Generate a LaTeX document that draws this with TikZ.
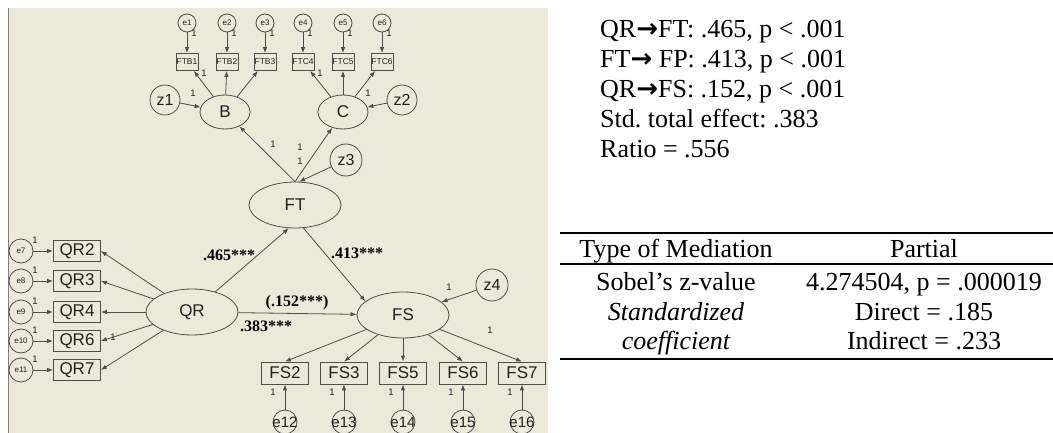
\documentclass[tikz,border=0pt]{standalone}
\usepackage{fontspec}
\setmainfont{Liberation Serif}
\newfontfamily\amosfont{Liberation Sans}
\newfontfamily\arrowfont{DejaVu Sans}
\usepackage{tikz}
\usetikzlibrary{shapes.geometric,arrows.meta}
\definecolor{amosbg}{HTML}{ECE9D8}
\definecolor{amosline}{HTML}{4D4D4D}
\definecolor{amostext}{HTML}{222222}
\newcommand{\resultArrow}[0]{{\arrowfont\bfseries →}}
\newcommand{\wideLabel}[1]{\makebox[0pt]{#1}}

\begin{document}
\frenchspacing
\begin{tikzpicture}[x=1pt,y=-1pt]
  \tikzset{
    latent/.style={ellipse,draw=amosline,line width=0.8pt,inner sep=0pt,minimum width=92pt,minimum height=46pt,text=amostext,font=\amosfont\fontsize{17}{17}\selectfont},
    smalllatent/.style={latent,minimum width=50pt,minimum height=34pt},
    observed/.style={rectangle,draw=amosline,line width=0.8pt,inner sep=0pt,minimum width=47pt,minimum height=21pt,text=amostext,font=\amosfont\fontsize{17}{17}\selectfont},
    smallobserved/.style={observed,minimum width=22pt,minimum height=17pt,font=\amosfont\fontsize{8.5}{8.5}\selectfont},
    resid/.style={circle,draw=amosline,line width=0.8pt,inner sep=0pt,minimum size=24pt,text=amostext,font=\amosfont\fontsize{8}{8}\selectfont},
    smallresid/.style={resid,minimum size=18pt},
    disturb/.style={resid,minimum size=32pt,font=\amosfont\fontsize{16}{16}\selectfont},
    regression/.style={draw=amosline,line width=0.8pt,-{Latex[length=6pt,width=4.5pt]}},
    fixone/.style={inner sep=0pt,text=amostext,font=\amosfont\fontsize{9.5}{9.5}\selectfont},
    estimate/.style={inner sep=0pt,font=\fontsize{16}{16}\selectfont\bfseries},
    result/.style={anchor=base west,inner sep=0pt,font=\fontsize{26}{26}\selectfont},
    cell/.style={anchor=base,inner sep=0pt,font=\fontsize{26}{26}\selectfont},
    tablerule/.style={line width=1.3pt}
  }
  \useasboundingbox (0,0) rectangle (1053,433);
  \fill[amosbg] (8,8) rectangle (548,433);
  \draw[gray,line width=1pt] (8,8) -- (8,433);

  % FT measurement part
  \node[smallresid] (e1) at (187,23) {e1};
  \node[smallresid] (e2) at (227,23) {e2};
  \node[smallresid] (e3) at (265,23) {e3};
  \node[smallresid] (e4) at (303,23) {e4};
  \node[smallresid] (e5) at (343,23) {e5};
  \node[smallresid] (e6) at (382,23) {e6};
  \node[smallobserved] (FTB1) at (187,62) {FTB1};
  \node[smallobserved] (FTB2) at (227,62) {FTB2};
  \node[smallobserved] (FTB3) at (265,62) {FTB3};
  \node[smallobserved] (FTC4) at (303,62) {FTC4};
  \node[smallobserved] (FTC5) at (343,62) {FTC5};
  \node[smallobserved] (FTC6) at (382,62) {FTC6};
  \node[smalllatent] (B) at (225,112) {B};
  \node[smalllatent] (C) at (343,112) {C};
  \node[disturb,minimum size=30pt] (z1) at (165,100) {z1};
  \node[disturb,minimum size=30pt] (z2) at (402,100) {z2};
  \node[latent] (FT) at (295,205) {FT};
  \node[disturb] (z3) at (346,160) {z3};

  % QR part
  \node[latent] (QR) at (192,312) {QR};
  \node[observed] (QR2) at (77,251) {QR2};
  \node[observed] (QR3) at (77,281) {QR3};
  \node[observed] (QR4) at (77,312) {QR4};
  \node[observed] (QR6) at (77,341) {QR6};
  \node[observed] (QR7) at (77,370) {QR7};
  \node[resid] (e7) at (21,251) {e7};
  \node[resid] (e8) at (21,281) {e8};
  \node[resid] (e9) at (21,312) {e9};
  \node[resid] (e10) at (21,341) {e10};
  \node[resid] (e11) at (21,370) {e11};

  % FS part
  \node[latent] (FS) at (403,315) {FS};
  \node[disturb] (z4) at (492,285) {z4};
  \node[observed,minimum height=22pt] (FS2) at (285,373) {FS2};
  \node[observed,minimum height=22pt] (FS3) at (344,373) {FS3};
  \node[observed,minimum height=22pt] (FS5) at (403,373) {FS5};
  \node[observed,minimum height=22pt] (FS6) at (463,373) {FS6};
  \node[observed,minimum height=22pt] (FS7) at (522,373) {FS7};
  \node[resid,font=\amosfont\fontsize{15}{15}\selectfont] (e12) at (285,422) {\wideLabel{e12}};
  \node[resid,font=\amosfont\fontsize{15}{15}\selectfont] (e13) at (344,422) {\wideLabel{e13}};
  \node[resid,font=\amosfont\fontsize{15}{15}\selectfont] (e14) at (403,422) {\wideLabel{e14}};
  \node[resid,font=\amosfont\fontsize{15}{15}\selectfont] (e15) at (463,422) {\wideLabel{e15}};
  \node[resid,font=\amosfont\fontsize{15}{15}\selectfont] (e16) at (522,422) {\wideLabel{e16}};

  % paths
  \draw[regression] (e1) -- (FTB1);
  \draw[regression] (e2) -- (FTB2);
  \draw[regression] (e3) -- (FTB3);
  \draw[regression] (e4) -- (FTC4);
  \draw[regression] (e5) -- (FTC5);
  \draw[regression] (e6) -- (FTC6);
  \draw[regression] (B) -- (FTB1);
  \draw[regression] (B) -- (FTB2);
  \draw[regression] (B) -- (FTB3);
  \draw[regression] (C) -- (FTC4);
  \draw[regression] (C) -- (FTC5);
  \draw[regression] (C) -- (FTC6);
  \draw[regression] (z1) -- (B);
  \draw[regression] (z2) -- (C);
  \draw[regression] (FT.north) -- (B);
  \draw[regression] (FT.north) -- (C);
  \draw[regression] (z3) -- (FT.80);
  \draw[regression] (QR) -- (FT.255);
  \draw[regression] (FT.290) -- (FS.160);
  \draw[regression] (QR) -- (FS);
  \draw[regression] (z4) -- (FS);
  \draw[regression] (QR) -- (QR2.east);
  \draw[regression] (QR) -- (QR3.east);
  \draw[regression] (QR) -- (QR4.east);
  \draw[regression] (QR) -- (QR6.east);
  \draw[regression] (QR) -- (QR7.east);
  \draw[regression] (e7) -- (QR2);
  \draw[regression] (e8) -- (QR3);
  \draw[regression] (e9) -- (QR4);
  \draw[regression] (e10) -- (QR6);
  \draw[regression] (e11) -- (QR7);
  \draw[regression] (FS) -- (FS2.north);
  \draw[regression] (FS) -- (FS3.north);
  \draw[regression] (FS) -- (FS5.north);
  \draw[regression] (FS) -- (FS6.north);
  \draw[regression] (FS) -- (FS7.north);
  \draw[regression] (e12) -- (FS2);
  \draw[regression] (e13) -- (FS3);
  \draw[regression] (e14) -- (FS5);
  \draw[regression] (e15) -- (FS6);
  \draw[regression] (e16) -- (FS7);

  % fixed weights
  \node[fixone] (w1) at (194,33) {1};
  \node[fixone] (w2) at (234,33) {1};
  \node[fixone] (w3) at (272,33) {1};
  \node[fixone] (w4) at (310,33) {1};
  \node[fixone] (w5) at (350,33) {1};
  \node[fixone] (w6) at (389,33) {1};
  \node[fixone] (wB) at (204,73) {1};
  \node[fixone] (wC) at (320,73) {1};
  \node[fixone] (wz1) at (193,93) {1};
  \node[fixone] (wz2) at (368,93) {1};
  \node[fixone] (wFB) at (273,144) {1};
  \node[fixone] (wFC) at (300,147) {1};
  \node[fixone] (wz3) at (300,161) {1};
  \node[fixone] (w7) at (35,240) {1};
  \node[fixone] (w8) at (35,270) {1};
  \node[fixone] (w9) at (35,301) {1};
  \node[fixone] (w10) at (35,330) {1};
  \node[fixone] (w11) at (35,359) {1};
  \node[fixone] (wQR) at (113,337) {1};
  \node[fixone] (wz4) at (449,287) {1};
  \node[fixone] (wFS) at (490,330) {1};
  \node[fixone] (w12) at (273,392) {1};
  \node[fixone] (w13) at (332,392) {1};
  \node[fixone] (w14) at (391,392) {1};
  \node[fixone] (w15) at (451,392) {1};
  \node[fixone] (w16) at (510,392) {1};

  % estimates
  \node[estimate] (estQRFT) at (229,255) {.465***};
  \node[estimate] (estFTFS) at (357,253) {.413***};
  \node[estimate] (estDirect) at (297,303) {(.152***)};
  \node[estimate] (estTotal) at (266,326) {.383***};

  % results
  \node[result] (res1) at (600,38) {QR\resultArrow FT: .465, p < .001};
  \node[result] (res2) at (600,68) {FT\resultArrow{} FP: .413, p < .001};
  \node[result] (res3) at (600,98) {QR\resultArrow FS: .152, p < .001};
  \node[result] (res4) at (600,128) {Std. total effect: .383};
  \node[result] (res5) at (600,158) {Ratio = .556};

  % mediation table
  \draw[tablerule] (560,233) -- (1053,233);
  \draw[tablerule] (560,264) -- (1053,264);
  \draw[tablerule] (560,359) -- (1053,359);
  \node[cell] (typeHead) at (676,258) {Type of Mediation};
  \node[cell] (typeVal) at (924,258) {Partial};
  \node[cell] (sobelHead) at (676,290) {Sobel’s z-value};
  \node[cell] (sobelVal) at (924,290) {4.274504, p = .000019};
  \node[cell,font=\fontsize{26}{26}\selectfont\itshape] (coefHeadA) at (676,320) {Standardized};
  \node[cell,font=\fontsize{26}{26}\selectfont\itshape] (coefHeadB) at (676,349) {coefficient};
  \node[cell] (coefDirect) at (924,320) {Direct = .185};
  \node[cell] (coefIndirect) at (924,349) {Indirect = .233};
\end{tikzpicture}
\end{document}
